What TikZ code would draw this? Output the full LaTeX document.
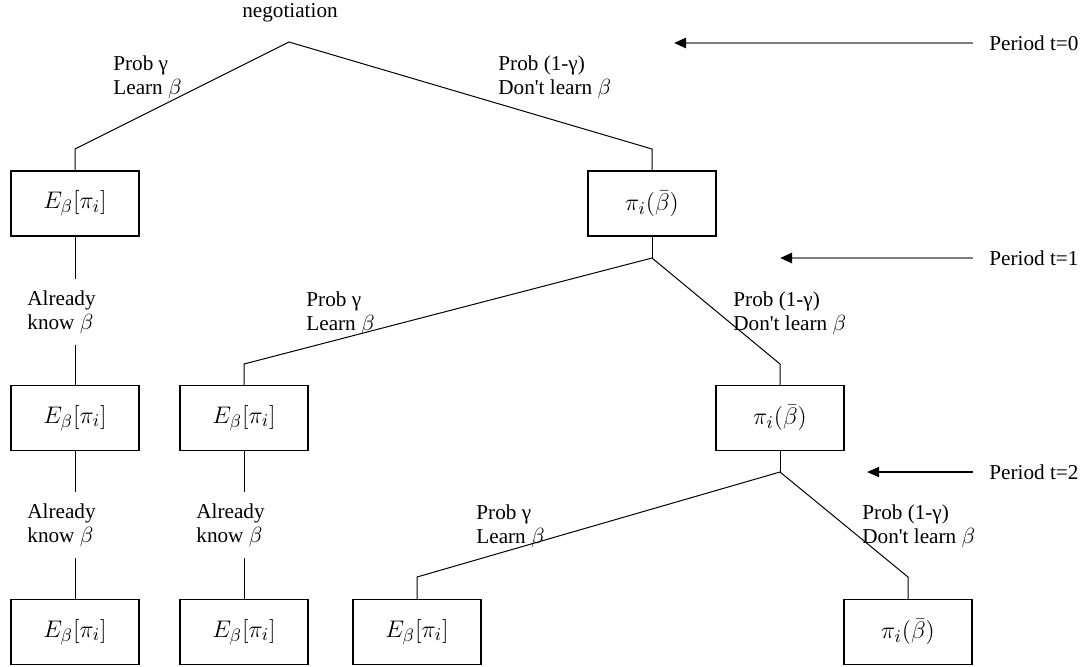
\documentclass[tikz,border=0pt]{standalone}
\usepackage{fontspec}
\setmainfont{Liberation Serif}
\usepackage{tikz}
\usetikzlibrary{arrows.meta,positioning,calc}
\definecolor{ArrGray}{RGB}{125,125,125}
\tikzset{
  payoff/.style={rectangle,draw=black,line width=0.7pt,minimum width=64pt,
                 minimum height=32.5pt,inner sep=0pt,
                 font=\fontsize{12.4}{15}\selectfont},
  prob/.style={align=left,anchor=west,inner sep=0pt,
               font=\fontsize{10.6}{12}\selectfont},
  known/.style={prob,inner ysep=5.5pt},
  period/.style={anchor=west,inner sep=0pt,font=\fontsize{10.6}{12}\selectfont},
  branch/.style={line width=0.5pt,black},
  perarr/.style={-{Triangle[length=6pt,width=5pt,color=black]},line width=1.2pt,ArrGray},
  perarrblk/.style={-{Triangle[length=6pt,width=5pt]},line width=0.7pt,black},
}

\begin{document}
\begin{tikzpicture}[x=0.5pt,y=-0.5pt]
  \useasboundingbox (0,0) rectangle (1086,666);

  % period t=0
  \coordinate (root) at (289,42);
  \node[font=\fontsize{10.6}{12}\selectfont] (neg) at (290,13) {negotiation};
  \node[payoff] (A) at (75,203.5) {$E_\beta[\pi_i]$};
  \node[payoff] (B) at (652,203.5) {$\pi_i(\bar\beta)$};
  \coordinate (kA) at (75,149);
  \coordinate (kB) at (652,149);
  \draw[branch] (A.north) -- (kA) -- (root) -- (kB) -- (B.north);
  \node[prob] (lA) at (113,77) {Prob γ\\Learn $\beta$};
  \node[prob] (lB) at (498,77) {Prob (1-γ)\\Don\textquotesingle t learn $\beta$};

  % period t=1
  \coordinate (rB) at (652,258);
  \node[payoff] (C) at (75,418) {$E_\beta[\pi_i]$};
  \node[payoff] (D) at (244,418) {$E_\beta[\pi_i]$};
  \node[payoff] (E) at (780,418) {$\pi_i(\bar\beta)$};
  \coordinate (kD) at (244,364);
  \coordinate (kE) at (780,364);
  \draw[branch] (B.south) -- (rB);
  \draw[branch] (D.north) -- (kD) -- (rB) -- (kE) -- (E.north);
  \node[prob] (lD) at (306,313) {Prob γ\\Learn $\beta$};
  \node[prob] (lE) at (733,313) {Prob (1-γ)\\Don\textquotesingle t learn $\beta$};
  \node[known] (aA) at (27,312) {Already\\know $\beta$};
  \draw[branch] (A.south) -- (A.south |- aA.north);
  \draw[branch] (C.north |- aA.south) -- (C.north);

  % period t=2
  \coordinate (rE) at (780,472);
  \node[payoff] (F) at (75,632) {$E_\beta[\pi_i]$};
  \node[payoff] (G) at (244,632) {$E_\beta[\pi_i]$};
  \node[payoff] (H) at (417,632) {$E_\beta[\pi_i]$};
  \node[payoff] (I) at (908,632) {$\pi_i(\bar\beta)$};
  \coordinate (kH) at (417,577);
  \coordinate (kI) at (908,577);
  \draw[branch] (E.south) -- (rE);
  \draw[branch] (H.north) -- (kH) -- (rE) -- (kI) -- (I.north);
  \node[prob] (lH) at (476,526) {Prob γ\\Learn $\beta$};
  \node[prob] (lI) at (862,526) {Prob (1-γ)\\Don\textquotesingle t learn $\beta$};
  \node[known] (aC) at (27,525) {Already\\know $\beta$};
  \node[known] (aD) at (196,525) {Already\\know $\beta$};
  \draw[branch] (C.south) -- (C.south |- aC.north);
  \draw[branch] (F.north |- aC.south) -- (F.north);
  \draw[branch] (D.south) -- (D.south |- aD.north);
  \draw[branch] (G.north |- aD.south) -- (G.north);

  % period markers
  \node[period] (p0) at (989,43) {Period t=0};
  \node[period] (p1) at (989,258) {Period t=1};
  \node[period] (p2) at (989,472) {Period t=2};
  \coordinate (t0) at (674,43);
  \coordinate (t1) at (780,258);
  \coordinate (t2) at (867,472);
  \draw[perarr] ([xshift=-8pt]p0.west) -- (t0);
  \draw[perarr] ([xshift=-8pt]p1.west) -- (t1);
  \draw[perarrblk] ([xshift=-8pt]p2.west) -- (t2);
\end{tikzpicture}
\end{document}
